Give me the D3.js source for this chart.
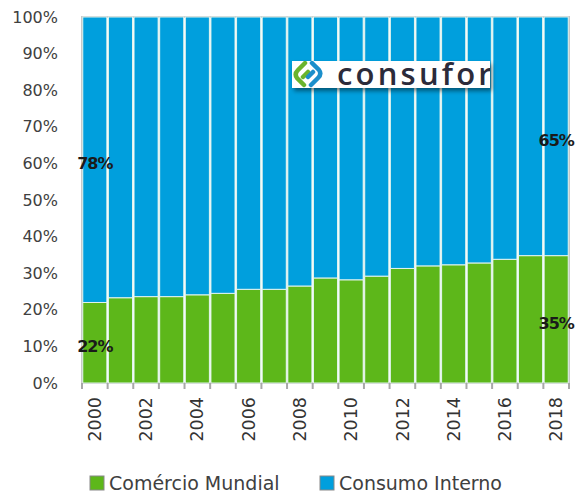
<!DOCTYPE html>
<html>
<head>
<script src="https://d3js.org/d3.v7.min.js"></script>
<style>
  body { margin: 0; background: #fff; }
  text { font-family: "DejaVu Sans", Verdana, sans-serif; }
</style>
</head>
<body>
<svg id="chart" width="580" height="497"></svg>
<script>
// data
var years = ["2000","2001","2002","2003","2004","2005","2006","2007","2008","2009",
             "2010","2011","2012","2013","2014","2015","2016","2017","2018"];
var comercio = [22, 23.3, 23.6, 23.6, 24.1, 24.5, 25.6, 25.6, 26.5, 28.7,
                28.2, 29.2, 31.3, 32, 32.3, 32.8, 33.8, 34.8, 34.8];
var consumo = comercio.map(function(v) { return 100 - v; });
var yTicks = [0, 10, 20, 30, 40, 50, 60, 70, 80, 90, 100];
var seriesNames = ["Comércio Mundial", "Consumo Interno"];
var colors = ["#5db71a", "#009fdd"];
var labels = [ {i: 0, s: 0, txt: "22%"}, {i: 0, s: 1, txt: "78%"},
               {i: 18, s: 0, txt: "35%"}, {i: 18, s: 1, txt: "65%"} ];

var svg = d3.select("#chart");
var m = {left: 82, right: 11, top: 17, bottom: 114};
var w = 580 - m.left - m.right, h = 497 - m.top - m.bottom;
var g = svg.append("g").attr("transform", "translate(" + m.left + "," + m.top + ")");

var x = d3.scaleBand().domain(years).range([0, w]).paddingInner(0.06).paddingOuter(0.03);
var y = d3.scaleLinear().domain([0, 100]).range([h, 0]);

var rows = years.map(function(yr, i) { return {year: yr, c: comercio[i], i: consumo[i]}; });
var stack = d3.stack().keys(["c", "i"])(rows);

// plot frame
g.append("rect").attr("x", 0).attr("y", 0).attr("width", w).attr("height", h)
  .attr("fill", "none").attr("stroke", "#c8c8c8").attr("stroke-width", 2);

g.selectAll("g.series").data(stack).enter().append("g")
  .attr("class", "series")
  .attr("fill", function(d, k) { return colors[k]; })
  .selectAll("rect").data(function(d) { return d; }).enter().append("rect")
  .attr("x", function(d) { return x(d.data.year); })
  .attr("y", function(d) { return y(d[1]); })
  .attr("width", x.bandwidth())
  .attr("height", function(d) { return y(d[0]) - y(d[1]); })
  .attr("stroke", "#e2f4ee").attr("stroke-width", 1);

// y axis labels
g.selectAll("text.ytick").data(yTicks).enter().append("text")
  .attr("class", "ytick")
  .attr("x", -24).attr("y", function(d) { return y(d); })
  .attr("dy", "0.35em").attr("text-anchor", "end")
  .attr("font-size", 16).attr("fill", "#404040")
  .text(function(d) { return d + "%"; });

// x axis ticks between bars
var bounds = d3.range(years.length + 1).map(function(k) { return k * w / years.length; });
g.selectAll("line.xtick").data(bounds).enter().append("line")
  .attr("x1", function(d) { return d; }).attr("x2", function(d) { return d; })
  .attr("y1", h).attr("y2", h + 6)
  .attr("stroke", "#a8a8a8").attr("stroke-width", 2);

g.selectAll("text.xlab").data(years.filter(function(d, k) { return k % 2 === 0; }))
  .enter().append("text")
  .attr("class", "xlab")
  .attr("transform", function(d) {
    return "translate(" + (x(d) + x.bandwidth() / 2) + "," + (h + 14) + ") rotate(-90)";
  })
  .attr("text-anchor", "end").attr("dy", "0.35em")
  .attr("font-size", 17.5).attr("fill", "#333")
  .text(function(d) { return d; });

// value labels
g.selectAll("text.val").data(labels).enter().append("text")
  .attr("class", "val")
  .attr("x", function(d) { return x(years[d.i]) + x.bandwidth() / 2; })
  .attr("y", function(d) {
    var seg = stack[d.s][d.i];
    return (y(seg[0]) + y(seg[1])) / 2 + 4;
  })
  .attr("text-anchor", "middle").attr("dy", "0.35em")
  .attr("font-size", 16).attr("font-weight", "bold").attr("letter-spacing", -1)
  .attr("fill", "#1a1a1a")
  .text(function(d) { return d.txt; });

// logo
var defs = svg.append("defs");
var f = defs.append("filter").attr("id", "sh").attr("x", "-10%").attr("y", "-30%")
  .attr("width", "130%").attr("height", "180%");
f.append("feDropShadow").attr("dx", 2).attr("dy", 3).attr("stdDeviation", 2)
  .attr("flood-color", "#000").attr("flood-opacity", 0.45);
defs.append("clipPath").attr("id", "logoclip").append("rect")
  .attr("x", 292).attr("y", 61).attr("width", 198).attr("height", 27);

var logo = svg.append("g");
logo.append("rect").attr("x", 292).attr("y", 61).attr("width", 198).attr("height", 27)
  .attr("fill", "#fff").attr("filter", "url(#sh)");
var lg = logo.append("g").attr("clip-path", "url(#logoclip)");
lg.append("path").attr("d", "M304,85 L297,78 Q294,74 298,70 L305,63 M308,72 L303,77")
  .attr("fill", "none").attr("stroke", "#6ab42d").attr("stroke-width", 4.5).attr("stroke-linecap", "round");
lg.append("path").attr("d", "M312,63 L319,70 Q322,74 318,78 L311,85 M308,77 L313,72")
  .attr("fill", "none").attr("stroke", "#1b8fcb").attr("stroke-width", 4.5).attr("stroke-linecap", "round");
lg.append("text").attr("x", 337).attr("y", 85)
  .attr("font-size", 31).attr("font-weight", 600).attr("fill", "#2c2b3a")
  .attr("letter-spacing", 3.2)
  .style("font-family", "'Open Sans', sans-serif")
  .text("consufor");

// legend
var leg = svg.append("g").attr("transform", "translate(0,483)");
var lx = [90, 320];
seriesNames.forEach(function(n, k) {
  leg.append("rect").attr("x", lx[k]).attr("y", -7).attr("width", 14).attr("height", 14)
    .attr("fill", colors[k]).attr("stroke", "#888").attr("stroke-width", 1);
  leg.append("text").attr("x", lx[k] + 19).attr("y", 0).attr("dy", "0.35em")
    .attr("font-size", 19).attr("fill", "#404040").text(n);
});
</script>
</body>
</html>
